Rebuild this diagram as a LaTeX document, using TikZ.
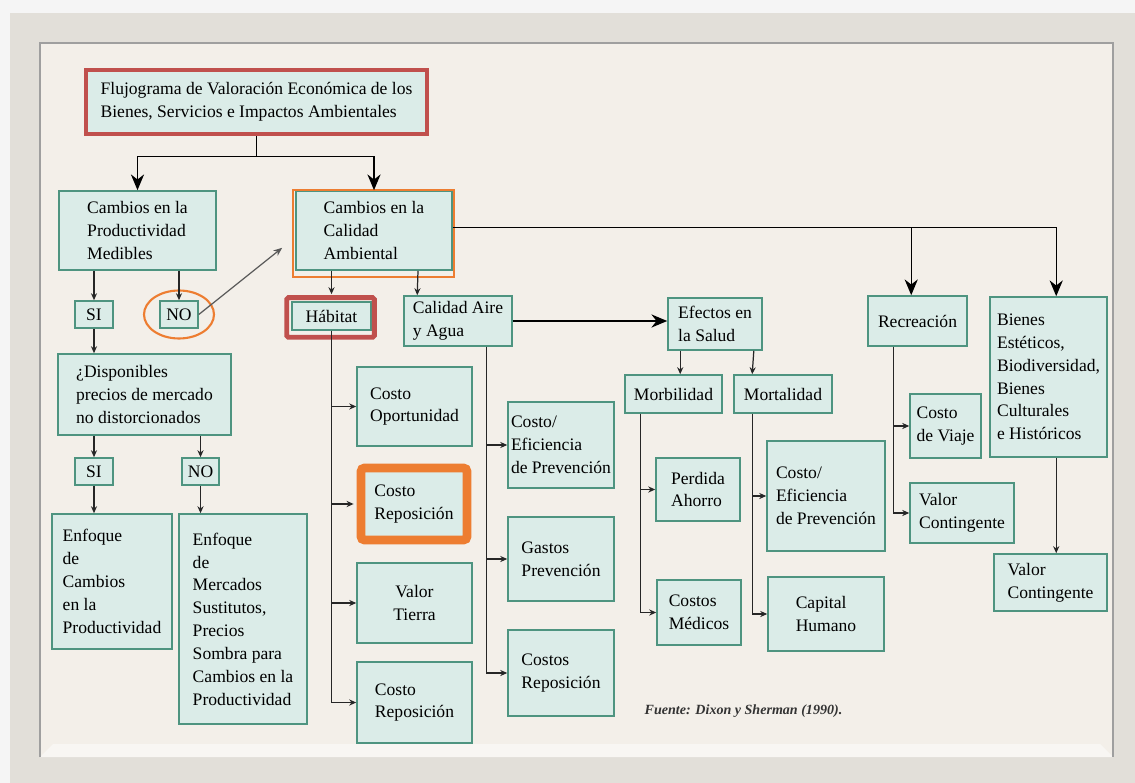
\documentclass[tikz,border=0pt]{standalone}
\usepackage{fontspec}
\setmainfont{Liberation Serif}
\usetikzlibrary{calc,arrows.meta}
\definecolor{relleno}{RGB}{219,236,232}
\definecolor{borde}{RGB}{78,148,128}
\definecolor{rojo}{RGB}{192,80,77}
\definecolor{naranja}{RGB}{237,125,49}
\definecolor{panel}{RGB}{243,239,233}
\definecolor{marco}{RGB}{226,223,217}
\pgfdeclarelayer{fondo}
\pgfsetlayers{fondo,main}
\tikzstyle{caja}=[rectangle,draw=borde,fill=relleno,line width=0.9pt,inner sep=0pt,align=left,font=\fontsize{10}{13}\selectfont]
\tikzstyle{flecha}=[-{Stealth[length=9pt,width=7.5pt]},line width=0.8pt]
\tikzstyle{flechita}=[-{Stealth[length=4pt,width=3.5pt]},line width=0.7pt,black!85]
\tikzset{tam/.style 2 args={minimum width=#1*0.02cm,minimum height=#2*0.02cm}}

\begin{document}
\begin{tikzpicture}[x=0.02cm,y=-0.02cm]
		\useasboundingbox (0,0) rectangle (1135,783);
		% cajas
		\node [caja,tam={341}{64},draw=rojo,line width=2.8pt] (titulo) at (256.5,102) {Flujograma de Valoración Económica de los\\Bienes, Servicios e Impactos Ambientales};
		\node [caja,tam={157}{79}] (prod) at (137.5,230.5) {Cambios en la\\Productividad\\Medibles};
		\node [caja,tam={156}{79}] (calidad) at (374,230.5) {Cambios en la\\Calidad\\Ambiental};
		\node [caja,tam={38}{27}] (si1) at (94,314.5) {SI};
		\node [caja,tam={38}{27}] (no1) at (179,314.5) {NO};
		\node [caja,tam={173}{81}] (disp) at (144.5,394.5) {¿Disponibles\\precios de mercado\\no distorcionados};
		\node [caja,tam={38}{27}] (si2) at (94,471.5) {SI};
		\node [caja,tam={37}{27}] (no2) at (200.5,471.5) {NO};
		\node [caja,tam={120}{135}] (enf1) at (112,581.5) {Enfoque\\de\\Cambios\\en la\\Productividad};
		\node [caja,tam={128}{210}] (enf2) at (243,619) {Enfoque\\de\\Mercados\\Sustitutos,\\Precios\\Sombra para\\Cambios en la\\Productividad};
		\node [caja,tam={79}{28},align=center] (habitat) at (331.5,316) {Hábitat};
		\node [caja,tam={108}{50}] (aire) at (458,321) {Calidad Aire\\y Agua};
		\node [caja,tam={115}{79}] (costoop) at (414.5,406.5) {Costo\\Oportunidad};
		\node [caja,tam={106}{72},draw=naranja,line width=5pt,rounded corners=2pt] (costorep) at (414,504) {Costo\\Reposición};
		\node [caja,tam={115}{80},align=center] (tierra) at (414.5,603) {Valor\\Tierra};
		\node [caja,tam={115}{81}] (costorepb) at (414.5,702.5) {Costo\\Reposición};
		\node [caja,tam={106}{86}] (prevaire) at (561,445) {Costo/\\Eficiencia\\de Prevención};
		\node [caja,tam={106}{84}] (gastos) at (561,559) {Gastos\\Prevención};
		\node [caja,tam={106}{86}] (costosrep) at (561,673) {Costos\\Reposición};
		\node [caja,tam={94}{52}] (efectos) at (715,324) {Efectos en\\la Salud};
		\node [caja,tam={97}{38}] (morb) at (673.5,394) {Morbilidad};
		\node [caja,tam={98}{38}] (mort) at (783,394) {Mortalidad};
		\node [caja,tam={84}{63}] (perdida) at (698,489.5) {Perdida\\Ahorro};
		\node [caja,tam={84}{65}] (medicos) at (699,612.5) {Costos\\Médicos};
		\node [caja,tam={118}{110}] (prevsalud) at (826,496) {Costo/\\Eficiencia\\de Prevención};
		\node [caja,tam={116}{74}] (capital) at (826,614) {Capital\\Humano};
		\node [caja,tam={99}{50}] (recre) at (917.5,321) {Recreación};
		\node [caja,tam={71}{64}] (viaje) at (945.5,426) {Costo\\de Viaje};
		\node [caja,tam={104}{60}] (valor) at (962,513) {Valor\\Contingente};
		\node [caja,tam={117}{160}] (bienes) at (1048.5,377) {Bienes\\Estéticos,\\Biodiversidad,\\Bienes\\Culturales\\e Históricos};
		\node [caja,tam={113}{57}] (valorb) at (1050.5,582.5) {Valor\\Contingente};
		\node [font=\fontsize{8}{9}\selectfont\bfseries\itshape,black!80] (fuente) at (743.5,711) {Fuente: Dixon y Sherman (1990).};
		% marcas
		\draw [rojo,line width=2.8pt,rounded corners=1pt] ($(habitat.north west)+(-4.5,-3.5)$) rectangle ($(habitat.south east)+(2.5,6.5)$);
		\draw [naranja,line width=1.2pt] ($(calidad.north west)+(-2,0)$) rectangle ($(calidad.south east)+(1,6)$);
		\draw [naranja,line width=1.2pt] (no1) ellipse [x radius=0.7cm,y radius=0.48cm];
		% conectores
		\draw [flecha] (titulo.south) -- ++(0,20) -| (prod.north);
		\draw [flecha] (titulo.south) -- ++(0,20) -| (calidad.north);
		\draw [flecha] ($(calidad.east)+(0,-3)$) -| ($(recre.north west)+(44,0)$);
		\draw [flecha] ($(calidad.east)+(0,-3)$) -| ($(bienes.north west)+(67,0)$);
		\draw [flecha] (aire.east) -- (aire.east -| efectos.west);
		\draw [flechita] (prod.south -| si1) -- (si1.north);
		\draw [flechita] (prod.south -| no1) -- (no1.north);
		\draw [flechita] (si1.south) -- (disp.north -| si1);
		\draw [flechita] (disp.south -| si2) -- (si2.north);
		\draw [flechita] (disp.south -| no2) -- (no2.north);
		\draw [flechita] (si2.south) -- (enf1.north -| si2);
		\draw [flechita] (no2.south) -- (enf2.north -| no2);
		\draw [-{Stealth[length=5pt,width=4pt]},line width=0.7pt,black!65] (no1.east) -- ($(calidad.south west)+(-13,-23)$);
		\draw [flechita] (calidad.south -| habitat) -- ($(habitat.north)+(0,-7)$);
		\draw [flechita] ($(calidad.south)+(44,0)$) -- ($(aire.north west)+(14,0)$);
		\draw [flechita] (habitat.south) |- (costoop.west);
		\draw [flechita] (habitat.south) |- ($(costorep.west)+(-3,0)$);
		\draw [flechita] (habitat.south) |- (tierra.west);
		\draw [flechita] (habitat.south) |- (costorepb.west);
		\draw [flechita] ($(aire.south west)+(83,0)$) |- (prevaire.west);
		\draw [flechita] ($(aire.south west)+(83,0)$) |- (gastos.west);
		\draw [flechita] ($(aire.south west)+(83,0)$) |- (costosrep.west);
		\draw [flechita] ($(efectos.south west)+(13,0)$) -- ($(morb.north west)+(56,0)$);
		\draw [flechita] ($(efectos.south east)+(-9,0)$) -- ($(mort.north west)+(19,0)$);
		\draw [flechita] ($(morb.south west)+(16,0)$) |- (perdida.west);
		\draw [flechita] ($(morb.south west)+(16,0)$) |- (medicos.west);
		\draw [flechita] ($(mort.south west)+(19,0)$) |- (prevsalud.west);
		\draw [flechita] ($(mort.south west)+(19,0)$) |- (capital.west);
		\draw [flechita] ($(recre.south west)+(26,0)$) |- (viaje.west);
		\draw [flechita] ($(recre.south west)+(26,0)$) |- (valor.west);
		\draw [flechita] ($(bienes.south west)+(67,0)$) -- ($(valorb.north west)+(63,0)$);
		\begin{pgfonlayer}{fondo}
			\fill [gray!8] (0,0) rectangle (1135,783);
			\fill [marco] (10,13) rectangle (1135,783);
			\fill [panel] (40,43) rectangle (1113,757);
			\fill [white!45!panel] (40,757) -- (1113,757) -- (1100,744) -- (53,744) -- cycle;
			\draw [gray!75,line width=1pt] (40,757) -- (40,43) -- (1113,43) -- (1113,757);
		\end{pgfonlayer}
\end{tikzpicture}
\end{document}
